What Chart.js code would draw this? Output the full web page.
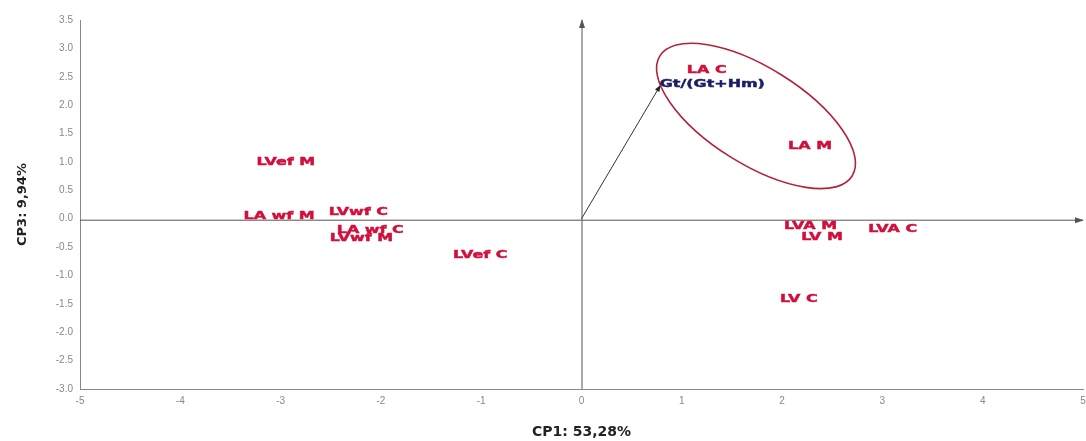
<!DOCTYPE html>
<html><head><meta charset="utf-8">
<script src="https://cdn.jsdelivr.net/npm/chart.js@4/dist/chart.umd.min.js"></script>
<style>html,body{margin:0;padding:0;background:#fff;}#wrap{width:1086px;height:441px;}</style>
</head><body><div id="wrap"><canvas id="c"></canvas></div>
<script>
const pointLabels = ['LVef M','LA wf M','LVwf C','LA wf C','LVwf M','LVef C','LA C','LA M','LVA M','LV M','LVA C','LV C'];
const cp1 = [-3.24,-3.37,-2.52,-2.44,-2.51,-1.28,1.05,2.06,2.02,2.19,2.86,1.98];
const cp3 = [1.00,0.05,0.12,-0.21,-0.35,-0.65,2.62,1.27,-0.14,-0.32,-0.18,-1.41];
const vectorLabels = ['Gt/(Gt+Hm)'];
const vectorCP1 = [0.79];
const vectorCP3 = [2.36];
const xTicks = [-5,-4,-3,-2,-1,0,1,2,3,4,5];
const yTicks = [-3,-2.5,-2,-1.5,-1,-0.5,0,0.5,1,1.5,2,2.5,3,3.5];
const groupEllipse = {cx:1.74, cy:1.81, rx:1.13, ry:0.86, angleDeg:32};

function arrowHead(ctx, x1,y1,x2,y2,len,w){
  const a=Math.atan2(y2-y1,x2-x1);
  ctx.beginPath();
  ctx.moveTo(x2,y2);
  ctx.lineTo(x2-len*Math.cos(a)+w*Math.sin(a), y2-len*Math.sin(a)-w*Math.cos(a));
  ctx.lineTo(x2-len*Math.cos(a)-w*Math.sin(a), y2-len*Math.sin(a)+w*Math.cos(a));
  ctx.closePath(); ctx.fill();
}
function wideText(ctx,t,x,y){
  ctx.save(); ctx.translate(x,y); ctx.scale(1.45,1);
  ctx.fillText(t,0,0); ctx.lineWidth=0.45; ctx.strokeText(t,0,0);
  ctx.restore();
}

const overlay = {
  id:'overlay',
  afterDatasetsDraw(chart){
    const ctx=chart.ctx, xs=chart.scales.x, ys=chart.scales.y;
    ctx.save();
    ctx.strokeStyle='#555'; ctx.fillStyle='#555'; ctx.lineWidth=1;
    const x0=xs.getPixelForValue(0), y0=ys.getPixelForValue(0);
    ctx.beginPath(); ctx.moveTo(xs.left,y0+1.5); ctx.lineTo(xs.right,y0+1.5); ctx.stroke();
    arrowHead(ctx,xs.left,y0+1.5,xs.right+1,y0+1.5,9,3);
    ctx.beginPath(); ctx.moveTo(x0+0.5,ys.bottom); ctx.lineTo(x0+0.5,ys.top); ctx.stroke();
    arrowHead(ctx,x0+0.5,ys.bottom,x0+0.5,ys.top-1,9,3);
    ctx.strokeStyle='#333'; ctx.fillStyle='#222';
    vectorCP1.forEach((v,i)=>{
      const px=xs.getPixelForValue(v), py=ys.getPixelForValue(vectorCP3[i]);
      ctx.beginPath(); ctx.moveTo(x0,y0); ctx.lineTo(px,py); ctx.stroke();
      arrowHead(ctx,x0,y0,px,py,7,2.5);
    });
    const e=groupEllipse;
    const ex=xs.getPixelForValue(e.cx), ey=ys.getPixelForValue(e.cy);
    const pxPerX=Math.abs(xs.getPixelForValue(1)-xs.getPixelForValue(0));
    ctx.strokeStyle='#b0243a'; ctx.lineWidth=1.6;
    ctx.beginPath();
    ctx.ellipse(ex,ey,e.rx*pxPerX,e.ry*pxPerX*0.56,e.angleDeg*Math.PI/180,0,Math.PI*2);
    ctx.stroke();
    ctx.font='bold 11px "DejaVu Sans", sans-serif';
    ctx.textBaseline='middle'; ctx.textAlign='left';
    ctx.fillStyle='#d0103c'; ctx.strokeStyle='#d0103c';
    pointLabels.forEach((t,i)=>{
      wideText(ctx,t, xs.getPixelForValue(cp1[i]), ys.getPixelForValue(cp3[i]));
    });
    ctx.fillStyle='#1c1c66'; ctx.strokeStyle='#1c1c66';
    vectorLabels.forEach((t,i)=>{
      wideText(ctx,t, xs.getPixelForValue(vectorCP1[i])-1, ys.getPixelForValue(vectorCP3[i])-1);
    });
    ctx.restore();
  }
};

new Chart(document.getElementById('c'),{
  type:'scatter',
  data:{datasets:[
    {data:cp1.map((v,i)=>({x:v,y:cp3[i]})), pointRadius:0, pointHoverRadius:0},
    {data:vectorCP1.map((v,i)=>({x:v,y:vectorCP3[i]})), pointRadius:0, pointHoverRadius:0}
  ]},
  options:{
    responsive:true, maintainAspectRatio:false, animation:false,
    layout:{padding:{top:20,right:3,left:0,bottom:0}},
    plugins:{legend:{display:false},tooltip:{enabled:false}},
    scales:{
      x:{type:'linear',min:-5,max:5,
        afterBuildTicks(s){s.ticks=xTicks.map(v=>({value:v}));},
        afterFit(s){s.paddingLeft=0;s.paddingRight=0;s.height=52;},
        grid:{display:false,drawTicks:true,tickLength:4,tickColor:'#999'},
        border:{display:true,color:'#888',width:1},
        ticks:{color:'#888',font:{size:10,family:'"Liberation Sans", Arial, sans-serif'},padding:2,maxRotation:0,autoSkip:false,callback:v=>String(v)},
        title:{display:true,text:'CP1: 53,28%',color:'#222',font:{size:14,weight:'bold',family:'"DejaVu Sans", sans-serif'},padding:{top:8,bottom:0}}
      },
      y:{type:'linear',min:-3,max:3.5,
        afterBuildTicks(s){s.ticks=yTicks.map(v=>({value:v}));},
        afterFit(s){s.paddingTop=0;s.paddingBottom=0;s.width=80;},
        grid:{display:false,drawTicks:true,tickLength:4,tickColor:'#999'},
        border:{display:true,color:'#888',width:1},
        ticks:{color:'#888',font:{size:10,family:'"Liberation Sans", Arial, sans-serif'},padding:3,autoSkip:false,callback:v=>Number(v).toFixed(1)},
        title:{display:true,text:'CP3: 9,94%',color:'#222',font:{size:13,weight:'bold',family:'"DejaVu Sans", sans-serif'},padding:{top:15,bottom:10}}
      }
    }
  },
  plugins:[overlay]
});
</script></body></html>
